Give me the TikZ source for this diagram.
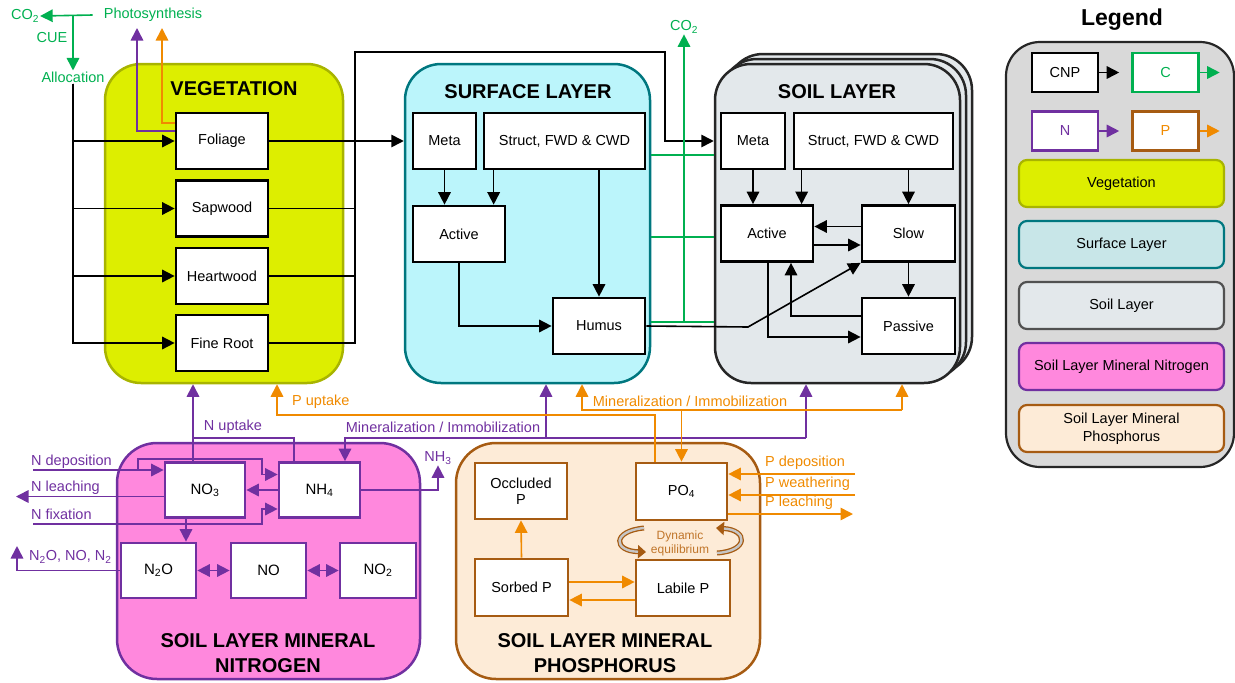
\documentclass[tikz,border=0pt]{standalone}
\usepackage{fontspec}
\setmainfont{Liberation Sans}
\usetikzlibrary{arrows.meta,positioning}
\definecolor{cgreen}{HTML}{00B050}
\definecolor{npurple}{HTML}{7030A0}
\definecolor{porange}{HTML}{F08A00}
\definecolor{pbrown}{HTML}{A65B12}
\definecolor{eqtext}{HTML}{C0752A}
\definecolor{vegfill}{HTML}{DDEE00}
\definecolor{vegline}{HTML}{A8B400}
\definecolor{surffill}{HTML}{BBF5FB}
\definecolor{surfline}{HTML}{00777F}
\definecolor{soilfill}{HTML}{E3E8EB}
\definecolor{soilline}{HTML}{262626}
\definecolor{nfill}{HTML}{FF88DD}
\definecolor{pfill}{HTML}{FDEBD7}
\definecolor{legfill}{HTML}{D9D9D9}
\definecolor{legsurf}{HTML}{C8E6E8}
\def\sub#1{\textsubscript{#1}}

\begin{document}
\begin{tikzpicture}[x=1pt, y=-1pt, >={Triangle[width=12.5pt,length=12.5pt]},
  font=\fontsize{14.5}{16}\selectfont,
  pool/.style={draw, line width=2.7pt, fill=white, inner sep=0pt, minimum height=56pt, align=center},
  layer/.style={draw, line width=2.5pt, rounded corners=36pt, minimum width=245pt, minimum height=319pt},
  mineral/.style={draw, line width=2.5pt, rounded corners=40pt, minimum width=303pt, minimum height=236pt},
  laytitle/.style={font=\bfseries\fontsize{20}{25}\selectfont, align=center},
  cnp/.style={draw=black, line width=1.6pt},
  cflux/.style={draw=cgreen, line width=1.6pt},
  nflux/.style={draw=npurple, line width=1.6pt},
  pflux/.style={draw=porange, line width=1.6pt},
  ctext/.style={text=cgreen, inner sep=1pt},
  ntext/.style={text=npurple, inner sep=1pt},
  ptext/.style={text=porange, inner sep=1pt},
  legitem/.style={draw, line width=2.2pt, rounded corners=8pt, minimum width=205pt, minimum height=47pt, align=center},
  legkey/.style={draw, line width=2.4pt, fill=white, minimum width=66pt, minimum height=39pt},
  eqouter/.style={draw=pbrown, line width=5pt, -{Triangle[width=13pt,length=8pt]}},
  eqinner/.style={draw=gray!45, line width=2.4pt, shorten >=8pt}]
\useasboundingbox (0,0) rectangle (1235,683);

% layers
\node[layer, fill=vegfill, draw=vegline, minimum width=238pt] (veg) at (224,223.5) {};
\node[layer, fill=surffill, draw=surfline] (surf) at (527.5,223.5) {};
\node[layer, fill=soilfill, draw=soilline] (soil3) at (849.5,213.5) {};
\node[layer, fill=soilfill, draw=soilline] (soil2) at (843.5,218.5) {};
\node[layer, fill=soilfill, draw=soilline] (soil) at (837.5,223.5) {};
\node[mineral, fill=nfill, draw=npurple] (nmin) at (268.5,561) {};
\node[mineral, fill=pfill, draw=pbrown, minimum width=304pt] (pmin) at (608,561) {};

\node[laytitle] at (234,89) {VEGETATION};
\node[laytitle] at (528,92) {SURFACE LAYER};
\node[laytitle] at (837,92) {SOIL LAYER};
\node[laytitle] at (268,653) {SOIL LAYER MINERAL\\NITROGEN};
\node[laytitle] at (605,653) {SOIL LAYER MINERAL\\PHOSPHORUS};

% vegetation pools
\node[pool, minimum width=92pt] (foliage) at (222,141) {Foliage};
\node[pool, minimum width=92pt] (sapwood) at (222,208.5) {Sapwood};
\node[pool, minimum width=92pt] (heartwood) at (222,276) {Heartwood};
\node[pool, minimum width=92pt] (fineroot) at (222,343) {Fine Root};

% surface pools
\node[pool, minimum width=63pt] (smeta) at (444.5,141) {Meta};
\node[pool, minimum width=161pt] (sstruct) at (564.5,141) {Struct, FWD \& CWD};
\node[pool, minimum width=92pt] (sactive) at (459,234) {Active};
\node[pool, minimum width=92pt] (shumus) at (599,326) {Humus};

% soil pools
\node[pool, minimum width=64pt] (lmeta) at (753,141) {Meta};
\node[pool, minimum width=159pt] (lstruct) at (873.5,141) {Struct, FWD \& CWD};
\node[pool, minimum width=92pt] (lactive) at (767,233.5) {Active};
\node[pool, minimum width=93pt] (lslow) at (908.5,233.5) {Slow};
\node[pool, minimum width=93pt] (lpassive) at (908.5,326) {Passive};

% mineral N pools
\node[pool, draw=npurple, minimum width=80pt, minimum height=55pt, font=\fontsize{15}{16}\selectfont] (no3) at (205,490) {NO\sub{3}};
\node[pool, draw=npurple, minimum width=81pt, minimum height=55pt, font=\fontsize{15}{16}\selectfont] (nh4) at (319.5,490) {NH\sub{4}};
\node[pool, draw=npurple, minimum width=75pt, minimum height=55pt, font=\fontsize{15}{16}\selectfont] (n2o) at (158.5,570.5) {N\sub{2}O};
\node[pool, draw=npurple, minimum width=75pt, minimum height=55pt, font=\fontsize{15}{16}\selectfont] (no) at (268.5,570.5) {NO};
\node[pool, draw=npurple, minimum width=76pt, minimum height=55pt, font=\fontsize{15}{16}\selectfont] (no2) at (378,570.5) {NO\sub{2}};

% mineral P pools
\node[pool, draw=pbrown, minimum width=92pt] (occl) at (521,491) {Occluded\\P};
\node[pool, draw=pbrown, minimum width=91pt, minimum height=57pt] (po4) at (681.5,491.5) {PO\sub{4}};
\node[pool, draw=pbrown, minimum width=93pt, minimum height=57pt] (sorbed) at (521.5,587.5) {Sorbed P};
\node[pool, draw=pbrown, minimum width=94pt] (labile) at (683,588) {Labile P};

% photosynthesis and allocation
\node[ctext] (photo) at (153,15) {Photosynthesis};
\node[ctext] (co2a) at (25,16) {CO\sub{2}};
\node[ctext] (cue) at (52,38) {CUE};
\node[ctext] (alloc) at (73,77) {Allocation};
\coordinate (cuept) at (73,15);
\draw[cflux,->] ([xshift=-10pt]photo.west) -- (co2a.east);
\draw[cflux,->] (cuept) -- (alloc.north);
\foreach \p in {foliage,sapwood,heartwood,fineroot}
  \draw[cnp,->] (alloc.south) |- (\p.west);
\coordinate (nphoto) at (137,28);
\coordinate (pphoto) at (162,28);
\draw[nflux,->] ([yshift=10pt]foliage.west) -| (nphoto);
\draw[pflux,->] ([yshift=18pt]foliage.west) -| (pphoto);

% litter fall
\coordinate (top1) at (355,52);
\coordinate (top2) at (665,52);
\draw[cnp,->] (foliage.east) -- (foliage.east -| surf.west);
\draw[cnp] (sapwood.east) -- (sapwood.east -| top1);
\draw[cnp] (heartwood.east) -- (heartwood.east -| top1);
\draw[cnp,->] (fineroot.east) -| (top1) -- (top2) |- (soil.west |- lmeta);

% surface layer
\draw[cnp,->] (smeta.south) -- (smeta.south |- sactive.north);
\draw[cnp,->] ([xshift=11pt]sstruct.south west) -- ([xshift=82pt]sactive.north west);
\draw[cnp,->] (shumus.north |- sstruct.south) -- (shumus.north);
\draw[cnp,->] (sactive.south) |- (shumus.west);
\coordinate (hbend) at (748,327);
\draw[cnp,->] (shumus.east) -- (hbend) -- (lslow.south west);

% soil layer
\draw[cnp,->] (lmeta.south) -- (lmeta.south |- lactive.north);
\draw[cnp,->] ([xshift=9pt]lstruct.south west) -- ([xshift=82pt]lactive.north west);
\draw[cnp,->] (lslow.north |- lstruct.south) -- (lslow.north);
\draw[cnp,->] ([yshift=7pt]lslow.west) -- ([yshift=7pt]lactive.east);
\draw[cnp,->] ([yshift=-11.5pt]lactive.east) -- ([yshift=-11.5pt]lslow.west);
\draw[cnp,->] (lslow.south) -- (lpassive.north);
\draw[cnp,->] ([yshift=10pt]lpassive.west) -| ([xshift=24pt]lactive.south);
\draw[cnp,->] ([xshift=1pt]lactive.south) |- ([yshift=-11pt]lpassive.west);

% respiration
\node[ctext] (co2b) at (684,27) {CO\sub{2}};
\coordinate (g1) at (0,155);
\coordinate (g2) at (0,237);
\coordinate (g3) at (0,322);
\foreach \g in {g1,g2,g3}
  \draw[cflux] (surf.east |- \g) -- (soil.west |- \g);
\draw[cflux,->] (co2b |- g3) -- (co2b.south);

% nitrogen fluxes
\coordinate (nup) at (193,438);
\draw[nflux,->] ([xshift=-12pt]no3.north) -- (nup |- veg.south);
\draw[nflux] ([xshift=-25.5pt]nh4.north) |- (nup);
\node[ntext] (nuplab) at (233,427) {N uptake};
\coordinate (nminl) at (345,438);
\coordinate (nmins) at (546,438);
\coordinate (nminr) at (806,438);
\draw[nflux,->] (nminr) -- (nminl) -- (nminl |- nh4.north);
\draw[nflux,->] (nmins) -- (nmins |- surf.south);
\draw[nflux,->] (nminr) -- (nminr |- soil.south);
\node[ntext] (nminlab) at (443,427) {Mineralization / Immobilization};
\node[ntext] (nh3) at (438,458) {NH\sub{3}};
\draw[nflux,->] (nh4.east) -| (nh3.south);
\node[ntext, anchor=west] (ndep) at (30,462) {N deposition};
\node[ntext, anchor=west] (nleach) at (30,488) {N leaching};
\node[ntext, anchor=west] (nfixlab) at (30,514) {N fixation};
\node[ntext, anchor=west] (ngaslab) at (28,557) {N\sub{2}O, NO, N\sub{2}};
\coordinate (ndepin) at (33,470);
\coordinate (ndepb) at (138,470);
\coordinate (nleachout) at (16,496.5);
\coordinate (nfix) at (33,524);
\coordinate (ngas) at (17,546);
\draw[nflux,->] (ndepin) -- (ndepin -| no3.west);
\draw[nflux,->] (ndepb) |- (262,459) |- ([yshift=15.5pt]nh4.west);
\draw[nflux,->] ([yshift=-6.5pt]no3.west) -- (nleachout);
\draw[nflux,->] (nh4.west) -- (no3.east);
\draw[nflux,->] (nfix) -| (262,509) -- ([yshift=-19pt]nh4.west);
\draw[nflux,->] ([xshift=-19pt]no3.south) -- ([xshift=27.5pt]n2o.north);
\draw[nflux,->] (n2o.west) -| (ngas);
\draw[nflux,<->] (n2o.east) -- (no.west);
\draw[nflux,<->] (no.east) -- (no2.west);

% phosphorus fluxes
\coordinate (pup) at (277,415);
\draw[pflux,->] ([xshift=-26.5pt]po4.north) |- (pup) -- (pup |- veg.south);
\node[ptext, anchor=west] (puplab) at (291,402) {P uptake};
\coordinate (pminl) at (582,410);
\coordinate (pminr) at (902,410);
\draw[pflux,->] (pminr) -- (pminl) -- (pminl |- surf.south);
\draw[pflux,->] (pminr) -- (pminr |- soil.south);
\draw[pflux,->] (po4.north |- pminl) -- (po4.north);
\node[ptext] (pminlab) at (690,401) {Mineralization / Immobilization};
\coordinate (pdep) at (855,474);
\coordinate (pweath) at (855,495);
\coordinate (pleach) at (853,514);
\draw[pflux,->] (pdep) -- (pdep -| po4.east);
\draw[pflux,->] (pweath) -- (pweath -| po4.east);
\draw[pflux,->] (po4.east |- pleach) -- (pleach);
\node[ptext, anchor=west] at (764,463) {P deposition};
\node[ptext, anchor=west] at (764,484) {P weathering};
\node[ptext, anchor=west] at (764,503) {P leaching};
\draw[pflux,->] (sorbed.north) -- (occl.south);
\draw[pflux,->] ([yshift=5.5pt]sorbed.east) -- ([yshift=6pt]labile.west);
\draw[pflux,->] ([yshift=-12pt]labile.west) -- ([yshift=-12.5pt]sorbed.east);

% dynamic equilibrium
\node[text=eqtext, align=center, font=\fontsize{12}{14}\selectfont] (eq) at (680,543) {Dynamic\\equilibrium};
\draw[eqouter] (644,528) .. controls (612,531) and (613,551) .. (646,552);
\draw[eqinner] (644,528) .. controls (612,531) and (613,551) .. (646,552);
\draw[eqouter] (717,553) .. controls (749,551) and (748,530) .. (716,528);
\draw[eqinner] (717,553) .. controls (749,551) and (748,530) .. (716,528);

% legend
\node[font=\bfseries\fontsize{23}{26}\selectfont] (legtitle) at (1122,20) {Legend};
\node[draw=soilline, line width=2.2pt, fill=legfill, rounded corners=34pt, minimum width=228pt, minimum height=425pt] (leg) at (1120,254.5) {};
\node[legkey] (kcnp) at (1065,72.5) {CNP};
\node[legkey, draw=cgreen, text=cgreen] (kc) at (1165.5,72.5) {C};
\node[legkey, draw=npurple, text=npurple] (kn) at (1065,131) {N};
\node[legkey, draw=pbrown, text=porange] (kp) at (1165.5,131) {P};
\draw[cnp,->] (kcnp.east) -- ++(20,0);
\draw[cflux,->] (kc.east) -- ++(20,0);
\draw[nflux,->] (kn.east) -- ++(20,0);
\draw[pflux,->] (kp.east) -- ++(20,0);
\node[legitem, fill=vegfill, draw=vegline] (kveg) at (1121.5,183.5) {Vegetation};
\node[legitem, fill=legsurf, draw=surfline] (ksurf) at (1121.5,244.5) {Surface Layer};
\node[legitem, fill=soilfill, draw=soilline!80] (ksoil) at (1121.5,305.5) {Soil Layer};
\node[legitem, fill=nfill, draw=npurple] (knmin) at (1121.5,366.5) {Soil Layer Mineral Nitrogen};
\node[legitem, fill=pfill, draw=pbrown, font=\fontsize{14.5}{18}\selectfont] (kpmin) at (1121.5,428.5) {Soil Layer Mineral\\Phosphorus};
\end{tikzpicture}
\end{document}
